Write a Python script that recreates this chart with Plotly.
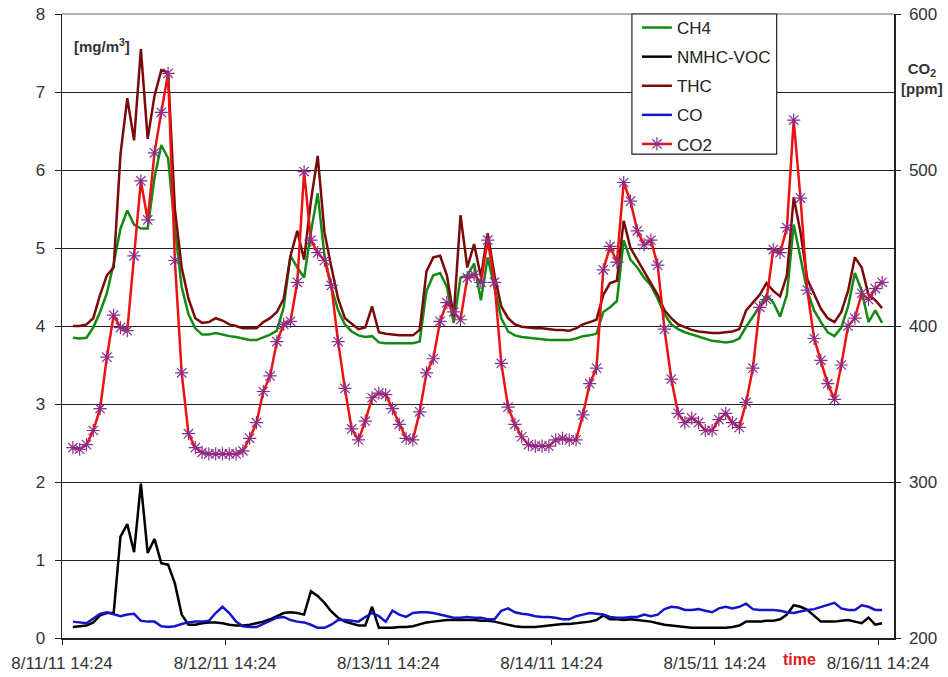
import datetime as dt
import plotly.graph_objects as go

# ---- data (hourly samples) ----
start_time = dt.datetime(2011, 8, 11, 16, 0)
n_hours = 120

ch4 = [3.85, 3.84, 3.85, 3.98, 4.18, 4.42, 4.80, 5.25, 5.48, 5.30,
       5.25, 5.25, 5.90, 6.32, 6.15, 5.25, 4.50, 4.15, 3.97, 3.89,
       3.89, 3.91, 3.89, 3.87, 3.86, 3.84, 3.82, 3.82, 3.85, 3.89,
       3.94, 4.24, 4.90, 4.75, 4.62, 5.20, 5.70, 4.90, 4.50, 4.20,
       4.02, 3.93, 3.88, 3.86, 3.87, 3.79, 3.78, 3.78, 3.78, 3.78,
       3.78, 3.80, 4.45, 4.65, 4.68, 4.50, 4.04, 4.62, 4.65, 4.80,
       4.33, 4.88, 4.50, 4.10, 3.93, 3.88, 3.86, 3.85, 3.84, 3.83,
       3.82, 3.82, 3.82, 3.82, 3.84, 3.87, 3.88, 3.90, 4.18, 4.24,
       4.32, 5.10, 4.85, 4.75, 4.62, 4.52, 4.35, 4.15, 4.02, 3.96,
       3.92, 3.89, 3.86, 3.83, 3.81, 3.80, 3.79, 3.80, 3.84, 3.99,
       4.12, 4.25, 4.40, 4.30, 4.12, 4.40, 5.30, 4.85, 4.45, 4.20,
       4.05, 3.92, 3.87, 3.98, 4.25, 4.68, 4.45, 4.05, 4.20, 4.04]

nmhc_voc = [0.14, 0.15, 0.16, 0.20, 0.29, 0.32, 0.32, 1.30, 1.46, 1.10,
            1.98, 1.09, 1.27, 0.96, 0.94, 0.70, 0.30, 0.17, 0.17, 0.19,
            0.20, 0.20, 0.19, 0.17, 0.16, 0.16, 0.17, 0.19, 0.21, 0.24,
            0.28, 0.32, 0.33, 0.32, 0.30, 0.60, 0.54, 0.45, 0.34, 0.26,
            0.21, 0.18, 0.16, 0.16, 0.40, 0.13, 0.13, 0.13, 0.14, 0.14,
            0.15, 0.18, 0.20, 0.21, 0.22, 0.23, 0.23, 0.23, 0.23, 0.23,
            0.22, 0.22, 0.21, 0.19, 0.17, 0.15, 0.14, 0.14, 0.14, 0.15,
            0.16, 0.17, 0.18, 0.18, 0.19, 0.20, 0.21, 0.23, 0.29, 0.24,
            0.24, 0.23, 0.24, 0.23, 0.22, 0.21, 0.19, 0.17, 0.16, 0.15,
            0.14, 0.13, 0.13, 0.13, 0.13, 0.13, 0.13, 0.14, 0.16, 0.21,
            0.21, 0.21, 0.22, 0.22, 0.24, 0.30, 0.42, 0.40, 0.36, 0.28,
            0.21, 0.21, 0.21, 0.22, 0.23, 0.21, 0.19, 0.26, 0.17, 0.19]

thc = [4.00, 4.00, 4.02, 4.10, 4.40, 4.65, 4.75, 6.20, 6.92, 6.38,
       7.55, 6.40, 6.95, 7.28, 7.25, 5.50, 4.75, 4.35, 4.10, 4.04,
       4.05, 4.10, 4.07, 4.02, 4.00, 3.97, 3.97, 3.97, 4.05, 4.10,
       4.18, 4.35, 4.90, 5.22, 4.85, 5.60, 6.18, 5.20, 4.76, 4.35,
       4.10, 4.03, 3.96, 3.98, 4.25, 3.92, 3.90, 3.89, 3.88, 3.88,
       3.88, 3.95, 4.70, 4.88, 4.90, 4.65, 4.12, 5.42, 4.75, 5.05,
       4.63, 5.19, 4.65, 4.25, 4.10, 4.02, 3.99, 3.98, 3.97, 3.97,
       3.96, 3.95, 3.95, 3.94, 3.97, 4.02, 4.05, 4.08, 4.40, 4.55,
       4.58, 5.35, 5.00, 4.85, 4.70, 4.55, 4.40, 4.20, 4.10, 4.02,
       3.98, 3.95, 3.93, 3.92, 3.91, 3.91, 3.92, 3.93, 3.96, 4.20,
       4.30, 4.40, 4.55, 4.45, 4.38, 4.65, 5.65, 5.20, 4.60, 4.40,
       4.22, 4.10, 4.05, 4.18, 4.45, 4.88, 4.75, 4.40, 4.33, 4.23]

co = [0.21, 0.20, 0.19, 0.25, 0.31, 0.33, 0.30, 0.28, 0.30, 0.31,
      0.22, 0.21, 0.21, 0.15, 0.14, 0.15, 0.18, 0.20, 0.21, 0.21,
      0.22, 0.32, 0.40, 0.32, 0.21, 0.15, 0.14, 0.14, 0.18, 0.22,
      0.26, 0.27, 0.23, 0.21, 0.20, 0.17, 0.13, 0.13, 0.17, 0.23,
      0.23, 0.22, 0.21, 0.27, 0.32, 0.28, 0.21, 0.35, 0.30, 0.27,
      0.32, 0.33, 0.33, 0.32, 0.30, 0.28, 0.26, 0.26, 0.27, 0.26,
      0.26, 0.24, 0.24, 0.35, 0.38, 0.33, 0.31, 0.30, 0.28, 0.27,
      0.27, 0.26, 0.24, 0.24, 0.28, 0.30, 0.32, 0.31, 0.30, 0.27,
      0.26, 0.26, 0.27, 0.27, 0.30, 0.28, 0.30, 0.37, 0.40, 0.39,
      0.36, 0.36, 0.37, 0.35, 0.33, 0.38, 0.40, 0.38, 0.40, 0.44,
      0.37, 0.36, 0.36, 0.36, 0.35, 0.33, 0.32, 0.34, 0.36, 0.37,
      0.40, 0.42, 0.45, 0.38, 0.36, 0.36, 0.42, 0.40, 0.36, 0.36]

co2 = [322, 321, 324, 333, 347, 380, 407, 399, 397, 445,
       493, 468, 511, 537, 562, 442, 370, 331, 322, 319,
       318, 318, 318, 318, 318, 320, 328, 338, 358, 368,
       390, 401, 403, 428, 499, 455, 447, 442, 426, 390,
       360, 334, 327, 339, 354, 357, 356, 347, 337, 328,
       327, 345, 370, 379, 403, 415, 409, 404, 431, 433,
       428, 455, 428, 376, 348, 337, 329, 324, 323, 323,
       323, 327, 328, 327, 327, 343, 363, 373, 436, 451,
       441, 492, 480, 461, 452, 455, 439, 398, 366, 344,
       338, 341, 338, 333, 333, 340, 344, 338, 335, 351,
       373, 412, 417, 449, 447, 463, 532, 482, 423, 392,
       378, 363, 353, 375, 400, 405, 421, 417, 424, 428]

tick_times = [dt.datetime(2011, 8, d, 14, 24) for d in range(11, 17)]
tick_labels = ["8/11/11 14:24", "8/12/11 14:24", "8/13/11 14:24",
               "8/14/11 14:24", "8/15/11 14:24", "8/16/11 14:24"]

times = [start_time + dt.timedelta(hours=h) for h in range(n_hours)]

FONT = "Arial, 'Liberation Sans', sans-serif"

fig = go.Figure()
series = [
    ("CH4", ch4, "#138a13"),
    ("NMHC-VOC", nmhc_voc, "#000000"),
    ("THC", thc, "#7a0a0a"),
    ("CO", co, "#1414c8"),
]
for name, vals, col in series:
    fig.add_trace(go.Scatter(x=times, y=vals, name=name, mode="lines",
                             line=dict(color=col, width=2.5),
                             legendgroup=name))
fig.add_trace(go.Scatter(x=times, y=co2, name="CO2", mode="lines+markers",
                         line=dict(color="#ee1111", width=2.5),
                         marker=dict(symbol="asterisk-open", size=11,
                                     color="#8b2d8b",
                                     line=dict(color="#8b2d8b", width=1.2)),
                         yaxis="y2", legendgroup="CO2"))

fig.update_layout(
    width=948, height=677, autosize=False,
    margin=dict(l=62, r=54, t=14, b=39, pad=0, autoexpand=False),
    paper_bgcolor="white", plot_bgcolor="white",
    font=dict(family=FONT, size=17, color="#333333"),
    showlegend=True, hovermode=False,
    legend=dict(x=0.691, y=1.0064, xanchor="left", yanchor="top",
                bgcolor="rgba(0,0,0,0)", borderwidth=0,
                font=dict(family=FONT, size=17, color="#222222"),
                traceorder="grouped", tracegroupgap=4,
                itemwidth=30),
    xaxis=dict(type="date", automargin=False,
               range=[dt.datetime(2011, 8, 11, 14, 24), dt.datetime(2011, 8, 16, 16, 45)],
               tickvals=tick_times, ticktext=tick_labels,
               ticks="outside", ticklen=5, tickcolor="#222222",
               ticklabelstandoff=4, ticklabeloverflow="allow",
               showline=True, linecolor="#222222", linewidth=1.5,
               showgrid=False, zeroline=False,
               tickfont=dict(family=FONT, size=17, color="#333333")),
    yaxis=dict(range=[0, 8], tickvals=[0, 1, 2, 3, 4, 5, 6, 7, 8], automargin=False,
               ticks="outside", ticklen=6, tickcolor="#222222",
               ticklabelstandoff=6, ticklabeloverflow="allow",
               showline=True, linecolor="#222222", linewidth=1.5,
               showgrid=True, gridcolor="#222222", gridwidth=1,
               zeroline=False,
               tickfont=dict(family=FONT, size=17, color="#333333")),
    yaxis2=dict(range=[200, 600], tickvals=[200, 300, 400, 500, 600], automargin=False,
                overlaying="y", side="right",
                ticks="outside", ticklen=5, tickcolor="#222222",
                ticklabelstandoff=5, ticklabeloverflow="allow",
                showline=True, linecolor="#222222", linewidth=1.5,
                showgrid=False, zeroline=False,
                tickfont=dict(family=FONT, size=17, color="#333333")),
    shapes=[
        dict(type="line", xref="paper", yref="paper", x0=0, x1=1, y0=1, y1=1,
             line=dict(color="#999999", width=1.5), layer="above"),
        dict(type="rect", xref="paper", yref="paper",
             x0=0.685, x1=0.859, y0=0.7756, y1=1.0,
             fillcolor="white", line=dict(color="#222222", width=1.2),
             layer="above"),
    ],
    annotations=[
        dict(text="<b>[mg/m<sup>3</sup>]</b>", xref="paper", yref="paper",
             x=0.048, y=0.950, xanchor="center", yanchor="middle",
             showarrow=False, font=dict(family=FONT, size=15, color="#333333")),
        dict(text="<b>CO<sub>2</sub><br>[ppm]</b>", xref="paper", yref="paper",
             x=1.034, y=0.897, xanchor="center", yanchor="middle",
             showarrow=False, font=dict(family=FONT, size=15, color="#333333")),
        dict(text="<b>time</b>", xref="paper", yref="paper",
             x=0.886, y=-0.035, xanchor="center", yanchor="middle",
             showarrow=False, font=dict(family=FONT, size=16, color="#e02020")),
    ],
)

# remove the default 8px page margin so the figure sits at the window's corner
fig.write_html("out.html",
               config={"displayModeBar": False, "staticPlot": True},
               post_script="document.body.style.margin='0';"
                           "document.body.style.overflow='hidden';")
